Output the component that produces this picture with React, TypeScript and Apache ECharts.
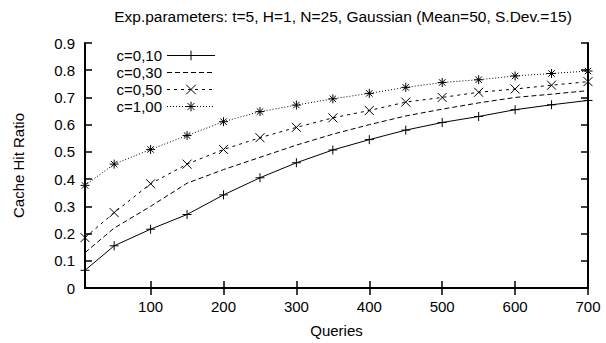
import React, { useEffect, useRef } from "react";
import * as echarts from "echarts";

const queries = [10, 50, 100, 150, 200, 250, 300, 350, 400, 450, 500, 550, 600, 650, 700];
const seriesNames = ["c=0,10", "c=0,30", "c=0,50", "c=1,00"];
const c010 = [0.065, 0.155, 0.216, 0.27, 0.342, 0.405, 0.46, 0.507, 0.545, 0.58, 0.608, 0.63, 0.655, 0.673, 0.689];
const c030 = [0.13, 0.22, 0.3, 0.385, 0.435, 0.48, 0.525, 0.565, 0.6, 0.632, 0.657, 0.68, 0.7, 0.712, 0.725];
const c050 = [0.185, 0.277, 0.383, 0.455, 0.509, 0.552, 0.59, 0.625, 0.652, 0.683, 0.7, 0.719, 0.731, 0.745, 0.758];
const c100 = [0.377, 0.455, 0.509, 0.56, 0.611, 0.648, 0.672, 0.695, 0.715, 0.737, 0.755, 0.765, 0.779, 0.788, 0.797];
const xTicks = [100, 200, 300, 400, 500, 600, 700];
const titleText = "Exp.parameters: t=5, H=1, N=25, Gaussian (Mean=50, S.Dev.=15)";

const PLUS = "path://M-1,0L1,0M0,-1L0,1";
const CROSS = "path://M-1,-1L1,1M-1,1L1,-1";
const STAR = "path://M-1,0L1,0M0,-1L0,1M-0.72,-0.72L0.72,0.72M-0.72,0.72L0.72,-0.72";

const FONT = "Liberation Sans";

export default function App() {
  const ref = useRef<HTMLDivElement>(null);
  useEffect(() => {
    if (!ref.current) return;
    const chart = echarts.init(ref.current, undefined, { renderer: "svg" });
    const mk = (name: string, vals: number[], symbol: string, type: any) => ({
      name,
      type: "line",
      data: queries.map((q, i) => [q, vals[i]]),
      symbol,
      symbolSize: 9,
      showSymbol: symbol !== "none",
      lineStyle: { color: "#000", width: 1, type },
      itemStyle: { color: "rgba(0,0,0,0)", borderColor: "#000", borderWidth: 1 },
      xAxisIndex: 0,
      yAxisIndex: 0,
    });
    const axisLine = { show: true, lineStyle: { color: "#000", width: 2 } };
    const tick = { show: true, inside: true, length: 7, lineStyle: { color: "#000", width: 1.5 } };
    const hidden = { color: "rgba(0,0,0,0)", borderColor: "rgba(0,0,0,0)", borderWidth: 0 };
    chart.setOption({
      animation: false,
      textStyle: { fontFamily: FONT },
      title: {
        text: titleText,
        left: 338,
        top: 3,
        textAlign: "center",
        textStyle: { fontFamily: FONT, fontSize: 15.5, fontWeight: "normal", color: "#000" },
      },
      grid: { left: 85, right: 18, top: 43, bottom: 50 },
      legend: {
        orient: "vertical",
        left: 100,
        top: 48,
        padding: 0,
        align: "right",
        itemWidth: 48,
        itemHeight: 12,
        itemGap: 2,
        itemStyle: { borderWidth: 1 },
        lineStyle: { width: 1 },
        formatter: (name: string) => `{a|${name}}`,
        textStyle: {
          fontFamily: FONT,
          fontSize: 15,
          color: "#000",
          rich: { a: { width: 62, fontSize: 15, fontFamily: FONT, color: "#000", lineHeight: 15 } },
        },
        data: [
          seriesNames[0],
          { name: seriesNames[1], itemStyle: hidden },
          seriesNames[2],
          seriesNames[3],
        ],
      },
      xAxis: [
        {
          type: "value",
          min: 10,
          max: 700,
          position: "bottom",
          axisLine,
          axisTick: { ...tick, customValues: xTicks },
          axisLabel: { customValues: xTicks, color: "#000", fontSize: 15, fontFamily: FONT, margin: 11 },
          splitLine: { show: false },
          name: "Queries",
          nameLocation: "middle",
          nameGap: 35,
          nameTextStyle: { color: "#000", fontSize: 15, fontFamily: FONT },
        },
        {
          type: "value",
          min: 10,
          max: 700,
          position: "top",
          axisLine,
          axisTick: { ...tick, customValues: xTicks },
          axisLabel: { show: false },
          splitLine: { show: false },
        },
      ],
      yAxis: [
        {
          type: "value",
          min: 0,
          max: 0.9,
          interval: 0.1,
          position: "left",
          axisLine,
          axisTick: tick,
          axisLabel: {
            color: "#000",
            fontSize: 15,
            fontFamily: FONT,
            margin: 10,
            formatter: (v: number) => (v === 0 ? "0" : v.toFixed(1)),
          },
          splitLine: { show: false },
          name: "Cache Hit Ratio",
          nameLocation: "middle",
          nameGap: 59,
          nameRotate: 90,
          nameTextStyle: { color: "#000", fontSize: 15, fontFamily: FONT },
        },
        {
          type: "value",
          min: 0,
          max: 0.9,
          interval: 0.1,
          position: "right",
          axisLine,
          axisTick: tick,
          axisLabel: { show: false },
          splitLine: { show: false },
        },
      ],
      series: [
        mk(seriesNames[0], c010, PLUS, "solid"),
        mk(seriesNames[1], c030, "none", [5, 3]),
        mk(seriesNames[2], c050, CROSS, [3, 4]),
        mk(seriesNames[3], c100, STAR, [1, 2]),
      ],
    });
    return () => chart.dispose();
  }, []);
  return <div ref={ref} style={{ width: 606, height: 343, position: "absolute", left: 0, top: 0 }} />;
}
